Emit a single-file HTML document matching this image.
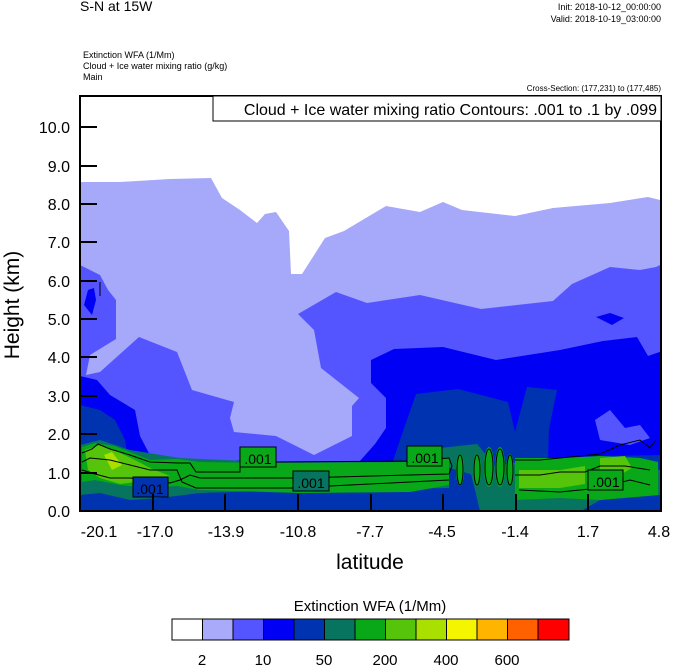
<!DOCTYPE html>
<html><head><meta charset="utf-8"><style>
body{margin:0;background:#fff;width:674px;height:668px;overflow:hidden}
svg{display:block;font-family:"Liberation Sans",sans-serif}
</style></head><body>
<svg width="674" height="668" viewBox="0 0 674 668" xmlns="http://www.w3.org/2000/svg">
<defs><clipPath id="c"><rect x="80" y="96" width="581" height="415"/></clipPath></defs>
<text x="80" y="11" font-size="14">S-N at 15W</text>
<text x="661" y="10" font-size="9" text-anchor="end">Init: 2018-10-12_00:00:00</text>
<text x="661" y="22" font-size="9" text-anchor="end">Valid: 2018-10-19_03:00:00</text>
<text x="83" y="58" font-size="9">Extinction WFA   (1/Mm)</text>
<text x="83" y="69" font-size="9">Cloud + Ice water mixing ratio    (g/kg)</text>
<text x="83" y="80" font-size="9">Main</text>
<text x="661" y="91" font-size="8" text-anchor="end">Cross-Section: (177,231) to (177,485)</text>
<g clip-path="url(#c)">
<rect x="80" y="96" width="581" height="415" fill="#fff"/>
<polygon fill="#a6a8fa" points="80,182 120,182 170,179 211,178 222,198 240,210 257,223 265,214 276,212 289,231 291,274 302,274 325,238 344,231 386,206 420,212 443,202 462,210 515,216 553,208 610,203 648,197 668,202 668,520 80,520"/>
<polygon fill="#5555ff" points="80,265 100,275 108,290 116,300 116,339 90,355 86,375 100,372 139,337 177,352 192,390 234,402 230,418 234,432 276,436 314,455 352,436 352,406 359,398 321,368 314,330 298,314 336,292 367,303 420,295 481,309 553,301 572,284 610,267 640,270 656,267 668,261 668,520 80,520"/>
<polygon fill="#0000f5" points="80,376 97,380 110,395 135,410 140,436 154,463 250,460 320,465 352,470 375,444 386,428 386,398 371,383 371,360 394,349 443,347 496,360 560,350 603,341 637,337 648,356 668,349 668,520 80,520"/>
<polygon fill="#5555ff" points="347,325 352,318 358,322 358,330 350,332"/>
<polygon fill="#0000f5" points="84,305 88,290 94,288 96,300 92,315"/>
<polygon fill="#0000f5" points="596,317 610,313 624,318 612,325"/>
<polygon fill="#0033b0" points="80,405 100,410 115,420 125,440 128,460 80,465"/>
<polygon fill="#0033b0" points="416,394 458,389 508,402 515,432 527,387 557,390 549,429 548,460 420,475 390,470 400,440"/>
<polygon fill="#0033b0" points="80,470 140,470 200,466 300,468 420,466 450,455 520,460 600,456 668,455 668,520 80,520"/>
<polygon fill="#5555ff" points="595,420 610,410 625,428 640,425 650,438 630,445 600,440"/>
<polygon fill="#077460" points="420,459 440,448 477,444 496,467 490,480"/>
<polygon fill="#077460" points="470,470 520,462 581,465 620,462 660,470 660,495 600,500 581,511 480,511 475,490"/>
<polygon fill="#077460" points="80,445 100,440 130,450 180,458 270,462 420,462 449,455 449,488 300,490 200,493 160,498 130,500 100,493 80,495"/>
<polygon fill="#08a818" points="82,447 95,443 115,446 130,452 150,460 177,459 200,462 260,463 300,463 410,462 449,458 449,485 410,492 300,493 200,490 177,486 150,488 120,485 95,480 82,482"/>
<polygon fill="#08a818" points="515,458 560,458 600,456 640,458 658,462 658,495 600,500 560,498 515,500"/>
<polygon fill="#55c40a" points="85,450 100,445 118,452 135,460 150,468 170,476 150,480 120,484 100,478 88,470"/>
<polygon fill="#55c40a" points="519,470 560,470 585,466 585,484 560,488 519,488"/>
<polygon fill="#55c40a" points="600,458 625,456 632,468 615,478 600,475"/>
<polygon fill="#aae000" points="104,455 112,452 122,465 112,470"/>
<g fill="#08a818"><ellipse cx="460" cy="470" rx="4" ry="16"/><ellipse cx="477" cy="470" rx="4" ry="16"/><ellipse cx="489" cy="467" rx="5" ry="20"/><ellipse cx="500" cy="467" rx="5" ry="20"/><ellipse cx="510" cy="470" rx="4" ry="16"/></g>
<g fill="none" stroke="#000" stroke-width="1">
<polyline points="82,453 92,449 98,444 110,449 130,455 150,462 178,463 190,463 196,472 240,472 240,462 270,462 410,461 449,458 452,466 449,474 410,475 300,478 200,478 190,475 180,480 170,483 150,480 130,478 110,478 95,474 82,470"/>
<polyline points="82,462 90,458 110,460 130,465 150,470 177,470 182,482 196,488 295,488 330,486 410,482 449,480"/>
<ellipse cx="460" cy="470" rx="3" ry="15"/><ellipse cx="477" cy="470" rx="3" ry="15"/><ellipse cx="489" cy="467" rx="4" ry="18"/><ellipse cx="500" cy="467" rx="4" ry="18"/><ellipse cx="510" cy="470" rx="3" ry="15"/>
<polyline points="515,460 540,460 560,458 600,454 620,445 640,440 650,448 656,440"/>
<polyline points="515,475 540,475 560,472 585,472 600,466 625,466 650,470"/>
<polyline points="519,490 560,492 600,488 630,480 650,485"/>
<line x1="100" y1="282" x2="100" y2="296"/>
</g>
<g font-size="14" text-anchor="middle">
<rect x="133" y="477" width="35" height="20" fill="#0033b0" stroke="#000"/><text x="150" y="494">.001</text>
<rect x="240" y="447" width="36" height="20" fill="#08a818" stroke="#000"/><text x="258" y="464">.001</text>
<rect x="293" y="471" width="36" height="20" fill="#077460" stroke="#000"/><text x="311" y="488">.001</text>
<rect x="407" y="446" width="35" height="20" fill="#08a818" stroke="#000"/><text x="425" y="463">.001</text>
<rect x="588" y="470" width="35" height="20" fill="#08a818" stroke="#000"/><text x="606" y="487">.001</text>
</g>
</g>
<rect x="80" y="96" width="581" height="415" fill="none" stroke="#000" stroke-width="2"/>
<rect x="213" y="96" width="448" height="25" fill="#fff" stroke="#000" stroke-width="1"/>
<text x="657" y="115" font-size="16" text-anchor="end">Cloud + Ice water mixing ratio Contours: .001 to .1 by .099</text>
<g stroke="#000" stroke-width="2">
<line x1="80" y1="127" x2="97" y2="127"/><line x1="80" y1="166" x2="97" y2="166"/><line x1="80" y1="204" x2="97" y2="204"/><line x1="80" y1="242" x2="97" y2="242"/><line x1="80" y1="281" x2="97" y2="281"/><line x1="80" y1="319" x2="97" y2="319"/><line x1="80" y1="357" x2="97" y2="357"/><line x1="80" y1="396" x2="97" y2="396"/><line x1="80" y1="434" x2="97" y2="434"/><line x1="80" y1="473" x2="97" y2="473"/>
<line x1="153" y1="511" x2="153" y2="494"/><line x1="225" y1="511" x2="225" y2="494"/><line x1="298" y1="511" x2="298" y2="494"/><line x1="371" y1="511" x2="371" y2="494"/><line x1="443" y1="511" x2="443" y2="494"/><line x1="516" y1="511" x2="516" y2="494"/><line x1="588" y1="511" x2="588" y2="494"/>
</g>
<g font-size="16" text-anchor="end">
<text x="70" y="133">10.0</text><text x="70" y="172">9.0</text><text x="70" y="210">8.0</text><text x="70" y="248">7.0</text><text x="70" y="287">6.0</text><text x="70" y="325">5.0</text><text x="70" y="363">4.0</text><text x="70" y="402">3.0</text><text x="70" y="440">2.0</text><text x="70" y="479">1.0</text><text x="70" y="517">0.0</text>
</g>
<g font-size="16" text-anchor="middle">
<text x="99" y="537">-20.1</text><text x="155" y="537">-17.0</text><text x="226" y="537">-13.9</text><text x="298" y="537">-10.8</text><text x="370" y="537">-7.7</text><text x="442" y="537">-4.5</text><text x="515" y="537">-1.4</text><text x="588" y="537">1.7</text><text x="659" y="537">4.8</text>
</g>
<text x="370" y="569" font-size="21" text-anchor="middle">latitude</text>
<text transform="translate(19,305) rotate(-90)" font-size="21" text-anchor="middle">Height (km)</text>
<text x="370" y="611" font-size="15" text-anchor="middle">Extinction WFA  (1/Mm)</text>
<g stroke="#000" stroke-width="1">
<rect x="172" y="619" width="30.5" height="21" fill="#fff"/><rect x="202.5" y="619" width="30.5" height="21" fill="#aaaafa"/><rect x="233" y="619" width="30.5" height="21" fill="#5555ff"/><rect x="263.5" y="619" width="30.5" height="21" fill="#0000f5"/><rect x="294" y="619" width="30.5" height="21" fill="#0033b0"/><rect x="324.5" y="619" width="30.5" height="21" fill="#077460"/><rect x="355" y="619" width="30.5" height="21" fill="#08a818"/><rect x="385.5" y="619" width="30.5" height="21" fill="#55c40a"/><rect x="416" y="619" width="30.5" height="21" fill="#aae000"/><rect x="446.5" y="619" width="30.5" height="21" fill="#f5f500"/><rect x="477" y="619" width="30.5" height="21" fill="#ffb400"/><rect x="507.5" y="619" width="30.5" height="21" fill="#ff6000"/><rect x="538" y="619" width="31" height="21" fill="#ff0000"/>
</g>
<g font-size="15" text-anchor="middle">
<text x="202" y="665">2</text><text x="263" y="665">10</text><text x="324" y="665">50</text><text x="385" y="665">200</text><text x="446" y="665">400</text><text x="507" y="665">600</text>
</g>
</svg>
</body></html>
